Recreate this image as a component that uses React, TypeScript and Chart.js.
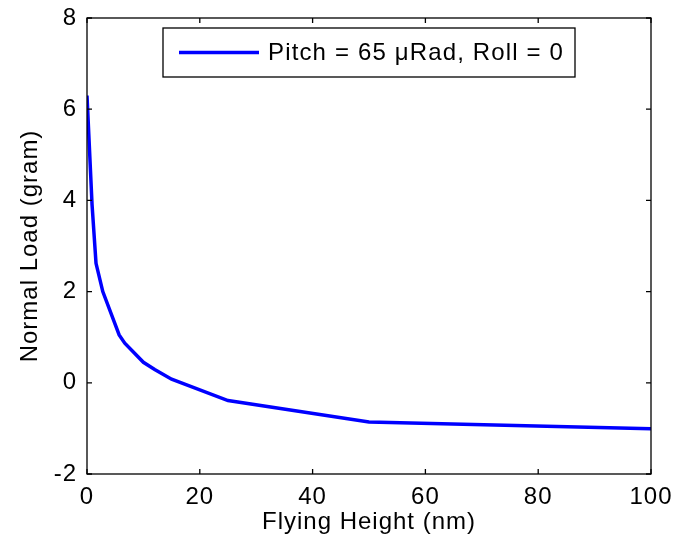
import React, { useEffect, useRef } from "react";
import { Chart, registerables } from "chart.js";

Chart.register(...registerables);

const flyingHeight = [0, 0.9, 1.6, 2.8, 5.7, 6.7, 10, 12, 15, 25, 50, 100];
const normalLoad = [6.3, 3.9, 2.62, 2.0, 1.05, 0.87, 0.45, 0.29, 0.08, -0.39, -0.86, -1.01];
const seriesLabel = "Pitch = 65 \u03bcRad, Roll = 0";
const xTitle = "Flying Height (nm)";
const yTitle = "Normal Load (gram)";
const xTicks = [0, 20, 40, 60, 80, 100];
const yTicks = [-2, 0, 2, 4, 6, 8];

const FONT = "'Liberation Sans', Arial, sans-serif";

const spacingPlugin = {
  id: "spacing",
  beforeLayout(chart: any) {
    (chart.ctx as any).letterSpacing = "1px";
  },
  beforeDraw(chart: any) {
    (chart.ctx as any).letterSpacing = "1px";
  },
};

const framePlugin = {
  id: "frameAndTicks",
  afterDraw(chart: any) {
    const { ctx, chartArea } = chart;
    const { left, right, top, bottom } = chartArea;
    const xs = chart.scales.x;
    const ys = chart.scales.y;
    ctx.save();
    ctx.strokeStyle = "#000";
    ctx.lineWidth = 1.3;
    ctx.strokeRect(left, top, right - left, bottom - top);
    const tl = 5;
    ctx.beginPath();
    xTicks.forEach((v) => {
      const px = xs.getPixelForValue(v);
      ctx.moveTo(px, bottom);
      ctx.lineTo(px, bottom - tl);
      ctx.moveTo(px, top);
      ctx.lineTo(px, top + tl);
    });
    yTicks.forEach((v) => {
      const py = ys.getPixelForValue(v);
      ctx.moveTo(left, py);
      ctx.lineTo(left + tl, py);
      ctx.moveTo(right, py);
      ctx.lineTo(right - tl, py);
    });
    ctx.stroke();

    // legend
    const bx = 163, by = 28, bw = 412, bh = 49;
    ctx.fillStyle = "#fff";
    ctx.fillRect(bx, by, bw, bh);
    ctx.lineWidth = 1.3;
    ctx.strokeStyle = "#000";
    ctx.strokeRect(bx, by, bw, bh);
    const ly = by + bh / 2;
    ctx.strokeStyle = "#0000ff";
    ctx.lineWidth = 3.5;
    ctx.beginPath();
    ctx.moveTo(179, ly);
    ctx.lineTo(259, ly);
    ctx.stroke();
    ctx.fillStyle = "#000";
    ctx.font = `24px ${FONT}`;
    (ctx as any).letterSpacing = "1.15px";
    ctx.textBaseline = "middle";
    ctx.textAlign = "left";
    ctx.fillText(chart.data.datasets[0].label, 268, ly + 1);
    ctx.restore();
  },
};

export default function App() {
  const ref = useRef<HTMLCanvasElement>(null);
  useEffect(() => {
    document.body.style.margin = "0";
    const canvas = ref.current!;
    const chart = new Chart(canvas, {
      type: "line",
      data: {
        datasets: [
          {
            label: seriesLabel,
            data: flyingHeight.map((x, i) => ({ x, y: normalLoad[i] })),
            borderColor: "#0000ff",
            borderWidth: 3.5,
            pointRadius: 0,
            tension: 0,
            fill: false,
          },
        ],
      },
      options: {
        animation: false,
        responsive: false,
        devicePixelRatio: 1,
        layout: { padding: { top: 18, right: 24, left: 0, bottom: 0 } },
        plugins: { legend: { display: false }, tooltip: { enabled: false } },
        scales: {
          x: {
            type: "linear",
            min: 0,
            max: 100,
            afterFit: (s: any) => {
              s.height = 72;
              s.paddingLeft = 0;
              s.paddingRight = 0;
            },
            afterBuildTicks: (s: any) => {
              s.ticks = xTicks.map((v) => ({ value: v }));
            },
            grid: { display: false, drawTicks: false },
            border: { display: false },
            ticks: {
              color: "#000",
              font: { family: FONT, size: 24 },
              padding: 9,
              maxRotation: 0,
            },
            title: {
              display: true,
              text: xTitle,
              color: "#000",
              font: { family: FONT, size: 24 },
              padding: { top: 0, bottom: 9 },
            },
          },
          y: {
            type: "linear",
            min: -2,
            max: 8,
            afterFit: (s: any) => {
              s.width = 87;
              s.paddingTop = 0;
              s.paddingBottom = 0;
            },
            afterBuildTicks: (s: any) => {
              s.ticks = yTicks.map((v) => ({ value: v }));
            },
            grid: { display: false, drawTicks: false },
            border: { display: false },
            ticks: {
              color: "#000",
              font: { family: FONT, size: 24 },
              padding: 10,
            },
            title: {
              display: true,
              text: yTitle,
              color: "#000",
              font: { family: FONT, size: 24 },
              padding: { top: 16, bottom: 0 },
            },
          },
        },
      },
      plugins: [spacingPlugin, framePlugin],
    });
    return () => chart.destroy();
  }, []);
  return (
    <div style={{ position: "absolute", left: 0, top: 0, width: 675, height: 546, background: "#fff" }}>
      <canvas ref={ref} width={675} height={546} />
    </div>
  );
}
